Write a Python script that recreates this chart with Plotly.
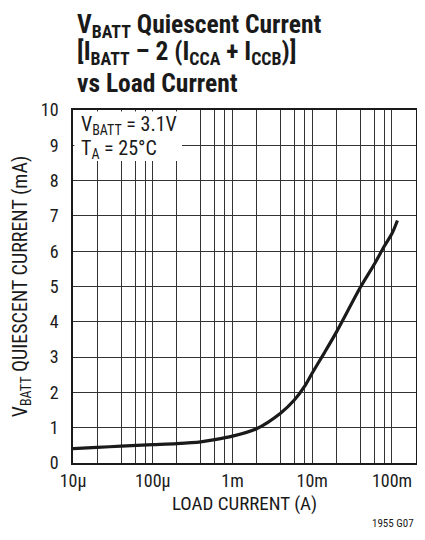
import plotly.graph_objects as go

# Data
load_current = [1e-5, 2e-5, 4e-5, 1e-4, 2e-4, 4e-4, 6e-4, 1e-3, 2e-3, 4e-3, 6e-3, 8e-3,
                1e-2, 1.4e-2, 2e-2, 4e-2, 6e-2, 8e-2, 1e-1, 1.17e-1]
quiescent_ma = [0.41, 0.44, 0.48, 0.52, 0.55, 0.60, 0.66, 0.76, 0.97, 1.41, 1.79, 2.17,
                2.55, 3.1, 3.7, 4.97, 5.63, 6.14, 6.5, 6.87]

x_grid = [m * 10.0 ** e for e in range(-5, 0) for m in (1, 2, 4, 6, 8)] + [0.2]
x_labels_map = {1e-5: "10µ", 1e-4: "100µ", 1e-3: "1m", 1e-2: "10m", 1e-1: "100m"}
x_ticktext = []
for v in x_grid:
    lab = ""
    for k, t in x_labels_map.items():
        if abs(v - k) / k < 1e-9:
            lab = t
    x_ticktext.append(lab)
y_ticks = list(range(0, 11))

FONT = "Roboto Condensed, Liberation Sans Narrow, Arial Narrow, Liberation Sans, sans-serif"

OFF = 8  # page body margin
W, H = 425 - 2 * OFF, 540 - 2 * OFF
L, T, R, B = 73 - OFF, 110 - OFF, W - 1, 463 - OFF
PW, PH = R - L, B - T


def px(xp):
    return (xp - OFF - L) / PW


def py(yp):
    return 1 - (yp - OFF - T) / PH


fig = go.Figure()
fig.add_trace(go.Scatter(x=load_current, y=quiescent_ma, mode="lines",
                         line=dict(color="#1a1a1a", width=3.2, shape="spline", smoothing=0.8),
                         hoverinfo="skip", showlegend=False))

fig.update_layout(
    width=W, height=H,
    margin=dict(l=L, r=W - R, t=T, b=H - B),
    paper_bgcolor="white", plot_bgcolor="white",
    font=dict(family=FONT, color="#1a1a1a", size=18),
    showlegend=False,
)
fig.update_xaxes(type="log", range=[-5, -0.69897], tickmode="array",
                 tickvals=x_grid, ticktext=x_ticktext, automargin=False,
                 showgrid=True, gridcolor="#333", gridwidth=1,
                 showline=True, linecolor="#1a1a1a", linewidth=1.6, mirror=True,
                 ticks="outside", ticklen=1, tickcolor="rgba(0,0,0,0)",
                 tickfont=dict(size=18), zeroline=False,
                 title=dict(text="LOAD CURRENT (A)", font=dict(size=19), standoff=6))
fig.update_yaxes(range=[0, 10], tickmode="array", tickvals=y_ticks, automargin=False,
                 showgrid=True, gridcolor="#333", gridwidth=1,
                 showline=True, linecolor="#1a1a1a", linewidth=1.6, mirror=True,
                 ticks="outside", ticklen=9, tickcolor="rgba(0,0,0,0)",
                 tickfont=dict(size=18), zeroline=False,
                 title=dict(text="V<sub>BATT</sub> QUIESCENT CURRENT (mA)", font=dict(size=20), standoff=15))

# white box behind the condition text
fig.add_shape(type="rect", xref="paper", yref="paper", x0=0.004, x1=px(182),
              y0=py(161), y1=0.996, fillcolor="white", line=dict(width=0),
              layer="above")

fig.add_annotation(xref="paper", yref="paper", x=px(79), y=py(125),
                   xanchor="left", yanchor="middle", showarrow=False,
                   text="V<sub>BATT</sub> = 3.1V", font=dict(size=20))
fig.add_annotation(xref="paper", yref="paper", x=px(79), y=py(149),
                   xanchor="left", yanchor="middle", showarrow=False,
                   text="T<sub>A</sub> = 25°C", font=dict(size=20))

# title (three lines, each placed separately)
title_lines = ["<b>V<sub>BATT</sub> Quiescent Current</b>",
               "<b>[I<sub>BATT</sub> – 2 (I<sub>CCA</sub> + I<sub>CCB</sub>)]</b>",
               "<b>vs Load Current</b>"]
title_y = [25, 53, 83]
for txt, yy in zip(title_lines, title_y):
    fig.add_annotation(xref="paper", yref="paper", x=px(75), y=py(yy),
                       xanchor="left", yanchor="middle", showarrow=False, align="left",
                       text=txt, font=dict(size=25.5))

fig.add_annotation(xref="paper", yref="paper", x=1.0, y=py(523),
                   xanchor="right", yanchor="middle", showarrow=False,
                   text="1955 G07", font=dict(size=11))

fig.write_html("out.html")
